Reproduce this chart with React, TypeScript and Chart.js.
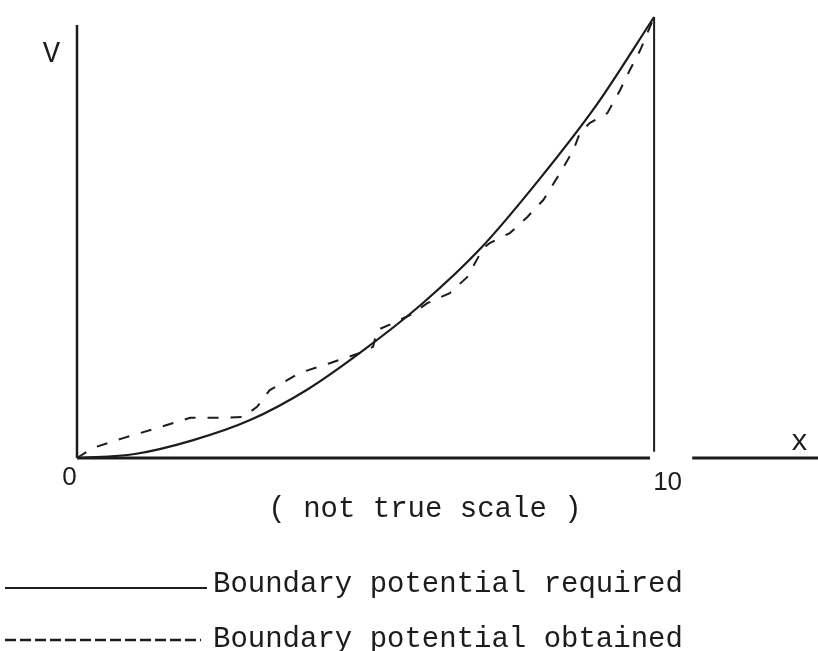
import React, { useEffect, useRef } from "react";
import { Chart, registerables } from "chart.js";

Chart.register(...registerables);

// Boundary potential required (solid curve)
const requiredX = [0, 1, 2, 3, 4, 5, 6, 7, 8, 9, 10];
const requiredV = [0, 0.9, 4, 8.6, 15.6, 24.8, 35.2, 47.6, 63, 80, 100];

// Boundary potential obtained (dashed curve)
const obtainedX = [
  0, 0.28, 0.8, 1.39, 1.96, 2.43, 2.88, 3.12, 3.34, 3.86, 4.38, 4.9, 5.13, 5.2,
  5.48, 5.77, 6.07, 6.46, 6.76, 7.04, 7.16, 7.5, 7.8, 8.08, 8.37, 8.6, 8.72,
  8.89, 9.19, 9.41, 9.58, 9.76, 10,
];
const obtainedV = [
  0, 2.3, 4.5, 6.8, 9.1, 9.1, 9.3, 11.6, 15.4, 19.3, 21.5, 23.8, 25.2, 29, 30.6,
  32.4, 35.1, 37.4, 41, 47.6, 48.8, 51, 54.6, 58.5, 64.6, 69.8, 73.9, 76, 78.2,
  83.4, 88, 92.5, 100,
];

// Frame of the figure
const leftAxisX = [0, 0];
const leftAxisV = [0, 98.2];
const rightEdgeX = [10, 10];
const rightEdgeV = [1.4, 100];
const baseLineX = [0, 9.93];
const baseLineV = [0, 0];
const tailLineX = [10.66, 12.84];
const tailLineV = [0, 0];

// Texts
const xTickLabels = ["0", "10"];
const xTickValues = [0, 10];
const yAxisLabel = "V";
const xAxisLabel = "x";
const caption = "( not true scale )";
const legendLabels = ["Boundary potential required", "Boundary potential obtained"];

const INK = "#1c1c1c";

const pts = (xs: number[], vs: number[]) => xs.map((x, i) => ({ x, y: vs[i] }));

const textPlugin = {
  id: "figureText",
  afterDraw(chart: any) {
    const { ctx } = chart;
    const xs = chart.scales.x;
    const ys = chart.scales.y;
    const x0 = xs.getPixelForValue(0);
    const y0 = ys.getPixelForValue(0);
    ctx.save();
    ctx.fillStyle = INK;
    ctx.textBaseline = "alphabetic";

    // tick labels (sans)
    ctx.font = '26px "Liberation Sans", Arial, sans-serif';
    ctx.textAlign = "center";
    ctx.fillText(xTickLabels[0], xs.getPixelForValue(xTickValues[0]) - 7.5, y0 + 27);
    ctx.fillText(xTickLabels[1], xs.getPixelForValue(xTickValues[1]) + 13.5, y0 + 32);

    // typewriter texts
    ctx.font = '29px "Liberation Mono", monospace';
    ctx.fillText(yAxisLabel, x0 - 25.5, 62);
    ctx.fillText(xAxisLabel, 799.5, y0 - 8);
    ctx.fillText(caption, 425, 517);

    ctx.textAlign = "left";
    ctx.fillText(legendLabels[0], 213, 592);
    ctx.fillText(legendLabels[1], 213, 647);

    // legend samples
    ctx.strokeStyle = INK;
    ctx.lineWidth = 2;
    ctx.setLineDash([]);
    ctx.beginPath();
    ctx.moveTo(5, 588);
    ctx.lineTo(207, 588);
    ctx.stroke();

    ctx.lineWidth = 2.5;
    ctx.setLineDash([11, 4]);
    ctx.beginPath();
    ctx.moveTo(5, 640);
    ctx.lineTo(201, 640);
    ctx.stroke();
    ctx.restore();
  },
};

export default function App() {
  const canvasRef = useRef<HTMLCanvasElement | null>(null);

  useEffect(() => {
    if (!canvasRef.current) return;
    const frame = (xs: number[], vs: number[], w: number) => ({
      data: pts(xs, vs),
      borderColor: INK,
      borderWidth: w,
      pointRadius: 0,
      tension: 0,
      clip: false as any,
    });
    const chart = new Chart(canvasRef.current, {
      type: "line",
      data: {
        datasets: [
          frame(leftAxisX, leftAxisV, 2.5),
          frame(rightEdgeX, rightEdgeV, 2),
          frame(baseLineX, baseLineV, 3),
          frame(tailLineX, tailLineV, 3),
          {
            label: legendLabels[0],
            data: pts(requiredX, requiredV),
            borderColor: INK,
            borderWidth: 2.2,
            pointRadius: 0,
            cubicInterpolationMode: "monotone",
            clip: false as any,
          },
          {
            label: legendLabels[1],
            data: pts(obtainedX, obtainedV),
            borderColor: INK,
            borderWidth: 2,
            borderDash: [11, 12],
            pointRadius: 0,
            tension: 0,
            clip: false as any,
          },
        ],
      },
      options: {
        animation: false,
        responsive: false,
        devicePixelRatio: 1,
        layout: { padding: { left: 77, right: 0, top: 17, bottom: 193 } },
        scales: {
          x: { type: "linear", min: 0, max: 12.84, display: false },
          y: { type: "linear", min: 0, max: 100, display: false },
        },
        plugins: { legend: { display: false }, tooltip: { enabled: false } },
      },
      plugins: [textPlugin],
    });
    return () => chart.destroy();
  }, []);

  return (
    <div style={{ position: "absolute", left: 0, top: 0, width: 818, height: 651, background: "#fff" }}>
      <canvas ref={canvasRef} width={818} height={651} style={{ display: "block" }} />
    </div>
  );
}
